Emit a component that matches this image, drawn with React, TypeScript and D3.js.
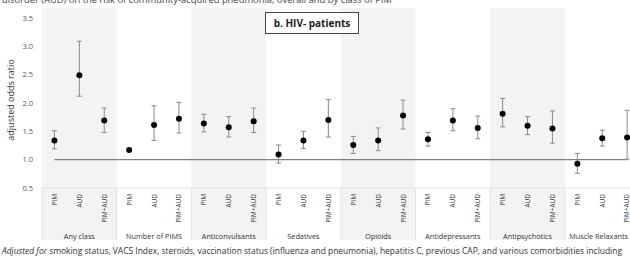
import React from 'react';
import * as d3 from 'd3';

const groups = ['Any class', 'Number of PIMS', 'Anticonvulsants', 'Sedatives', 'Opioids', 'Antidepressants', 'Antipsychotics', 'Muscle Relaxants'];
const exposures = ['PIM', 'AUD', 'PIM+AUD'];
const yTicks = [0.5, 1.0, 1.5, 2.0, 2.5, 3.0, 3.5];

// adjusted odds ratio per group: [PIM, AUD, PIM+AUD]
const oddsRatio = [
  [1.34, 2.49, 1.69],
  [1.17, 1.61, 1.72],
  [1.64, 1.57, 1.68],
  [1.09, 1.34, 1.70],
  [1.26, 1.34, 1.78],
  [1.36, 1.69, 1.56],
  [1.81, 1.60, 1.55],
  [0.93, 1.38, 1.39],
];
const lowerCI = [
  [1.19, 2.12, 1.48],
  [1.16, 1.34, 1.47],
  [1.49, 1.40, 1.48],
  [0.94, 1.20, 1.40],
  [1.11, 1.16, 1.54],
  [1.24, 1.51, 1.37],
  [1.58, 1.44, 1.29],
  [0.76, 1.24, 1.01],
];
const upperCI = [
  [1.51, 3.09, 1.91],
  [1.18, 1.95, 2.01],
  [1.80, 1.76, 1.91],
  [1.26, 1.50, 2.06],
  [1.41, 1.56, 2.05],
  [1.48, 1.90, 1.77],
  [2.08, 1.76, 1.86],
  [1.11, 1.52, 1.87],
];

const topNote = 'disorder (AUD) on the risk of community-acquired pneumonia, overall and by class of PIM';
const footNote = ' smoking status, VACS Index, steroids, vaccination status (influenza and pneumonia), hepatitis C, previous CAP, and various comorbidities including';

const W = 630;
const H = 259;
const font = '"Open Sans", "Liberation Sans", sans-serif';

export default function App() {
  const groupW = 74.7;
  const x0 = 42;
  const xGroup = d3.scaleBand().domain(groups).range([x0, x0 + groupW * groups.length]).padding(0);
  const xSub = d3.scaleBand().domain(exposures).range([0, xGroup.bandwidth()]).padding(0);
  const y = d3.scaleLinear().domain([0.5, 3.5]).range([188, 18]);

  const px = (g: string, e: string) => (xGroup(g) as number) + (xSub(e) as number) + xSub.bandwidth() / 2;
  const bandTop = 8;
  const bandBottom = 240;
  const firstX = px(groups[0], exposures[0]);
  const lastX = px(groups[groups.length - 1], exposures[exposures.length - 1]);

  return (
    <div style={{ position: 'absolute', left: 0, top: 0 }}>
      <svg width={W} height={H} style={{ display: 'block', background: '#fff' }} fontFamily={font}>
        <text x={2} y={3} fontSize={8.5} fill="#444" textLength={390} lengthAdjust="spacingAndGlyphs">{topNote}</text>

        {groups.map((g, i) => {
          const mid = (xGroup(g) as number) + xGroup.bandwidth() / 2;
          const last = i === groups.length - 1;
          return (
            <g key={g}>
              {i % 2 === 0 && (
                <rect x={xGroup(g)} y={bandTop} width={xGroup.bandwidth()} height={bandBottom - bandTop} fill="#f3f3f3" />
              )}
              <line x1={xGroup(g)} x2={xGroup(g)} y1={188} y2={bandBottom} stroke="#e2e2e2" strokeWidth={1} />
              <text x={last ? W - 2 : mid} y={239} fontSize={7.3} fill="#333" textAnchor={last ? 'end' : 'middle'}>{g}</text>
              {exposures.map((e) => (
                <text key={e} transform={`translate(${Math.min(px(g, e) + 2.5, W - 1)},194) rotate(-90)`} fontSize={6.5} fill="#333" textAnchor="end">{e}</text>
              ))}
            </g>
          );
        })}
        <line x1={x0} x2={W + 40} y1={188} y2={188} stroke="#e2e2e2" strokeWidth={1} />

        {yTicks.map((t) => (
          <text key={t} x={33} y={y(t) + 2.5} fontSize={7.5} fill="#555" textAnchor="end">{t.toFixed(1)}</text>
        ))}
        <text transform="translate(14,100) rotate(-90)" fontSize={9} fill="#333" textAnchor="middle">adjusted odds ratio</text>

        <line x1={firstX} x2={lastX} y1={y(1)} y2={y(1)} stroke="#7f7f7f" strokeWidth={1.2} />

        {groups.map((g, i) => exposures.map((e, j) => {
          const cx = px(g, e);
          const lo = y(lowerCI[i][j]);
          const hi = y(upperCI[i][j]);
          return (
            <g key={g + e}>
              <line x1={cx} x2={cx} y1={lo} y2={hi} stroke="#8a8a8a" strokeWidth={1} />
              <line x1={cx - 2.5} x2={cx + 2.5} y1={lo} y2={lo} stroke="#8a8a8a" strokeWidth={1} />
              <line x1={cx - 2.5} x2={cx + 2.5} y1={hi} y2={hi} stroke="#8a8a8a" strokeWidth={1} />
              <circle cx={cx} cy={y(oddsRatio[i][j])} r={3} fill="#000" />
            </g>
          );
        }))}

        <rect x={265.5} y={12.5} width={93} height={21} fill="#fff" stroke="#444" strokeWidth={1} />
        <text x={312} y={27} fontSize={10} fontWeight="bold" fill="#222" textAnchor="middle">b. HIV- patients</text>

        <text x={2} y={254} fontSize={8.5} fill="#333" textLength={620} lengthAdjust="spacingAndGlyphs">
          <tspan fontStyle="italic">Adjusted for</tspan>
          <tspan>{footNote}</tspan>
        </text>
      </svg>
    </div>
  );
}
